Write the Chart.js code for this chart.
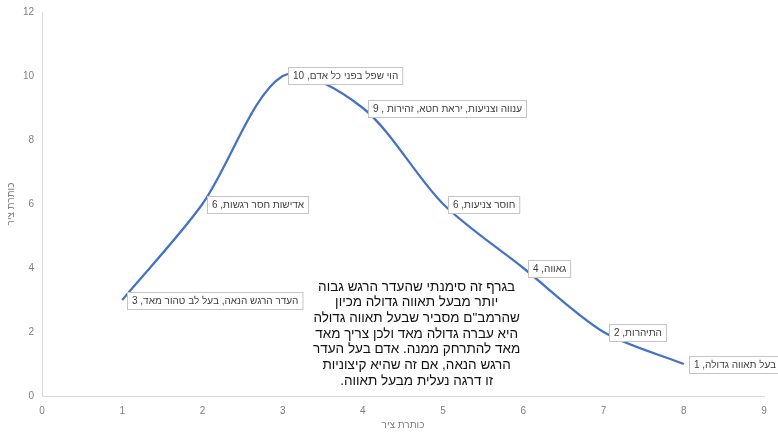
<!DOCTYPE html>
<html>
<head>
<meta charset="utf-8">
<script src="https://cdn.jsdelivr.net/npm/chart.js@4"></script>
<style>
  html, body { margin: 0; padding: 0; background: #fff; }
  #wrap { width: 778px; height: 435px; position: relative; }
</style>
</head>
<body>
<div id="wrap"><canvas id="c" width="778" height="435"></canvas></div>
<script>
// Level on the x axis and score on the y axis, one entry per trait
const levels = [1, 2, 3, 4, 5, 6, 7, 8];
const scores = [3, 6, 10, 9, 6, 4, 2, 1];
const traitNames = [
  'העדר הרגש הנאה, בעל לב טהור מאד',
  'אדישות חסר רגשות',
  'הוי שפל בפני כל אדם',
  'ענווה וצניעות, יראת חטא, זהירות ',
  'חוסר צניעות',
  'גאווה',
  'התיהרות',
  'בעל תאווה גדולה'
];
const xTicks = [0, 1, 2, 3, 4, 5, 6, 7, 8, 9];
const yTicks = [0, 2, 4, 6, 8, 10, 12];
const axisTitle = 'כותרת ציר';
const noteLines = [
  'בגרף זה סימנתי שהעדר הרגש גבוה',
  'יותר מבעל תאווה גדולה מכיון',
  'שהרמב"ם מסביר שבעל תאווה גדולה',
  'היא עברה גדולה מאד ולכן צריך מאד',
  'מאד להתרחק ממנה. אדם בעל העדר',
  'הרגש הנאה, אם זה שהיא קיצוניות',
  'זו דרגה נעלית מבעל תאווה.'
];

const points = levels.map((x, i) => ({ x: x, y: scores[i] }));
const uiFont = '"Liberation Sans", Arial, sans-serif';

// Callout boxes beside each point: "name, value"
const calloutPlugin = {
  id: 'callouts',
  afterDatasetsDraw(chart) {
    const ctx = chart.ctx;
    const xs = chart.scales.x, ys = chart.scales.y;
    ctx.save();
    ctx.font = '10px ' + uiFont;
    ctx.direction = 'rtl';
    ctx.textBaseline = 'middle';
    ctx.textAlign = 'left';
    points.forEach((p, i) => {
      const px = xs.getPixelForValue(p.x);
      const py = ys.getPixelForValue(p.y);
      const txt = traitNames[i] + ', ' + p.y;
      const w = ctx.measureText(txt).width + 9;
      const h = 17;
      const bx = Math.round(px + 5) + 0.5;
      const by = Math.round(py - h / 2) + 0.5;
      ctx.fillStyle = '#ffffff';
      ctx.fillRect(bx, by, w, h);
      ctx.strokeStyle = '#c4c4c4';
      ctx.lineWidth = 1;
      ctx.strokeRect(bx, by, w, h);
      ctx.fillStyle = '#404040';
      ctx.fillText(txt, bx + 4.5, by + h / 2 + 0.5);
    });
    ctx.restore();
  }
};

// Explanatory note in the lower middle of the plot
const notePlugin = {
  id: 'note',
  afterDraw(chart) {
    const ctx = chart.ctx;
    const xs = chart.scales.x, ys = chart.scales.y;
    const cx = xs.getPixelForValue(4.67);
    const top = ys.getPixelForValue(3.66);
    ctx.save();
    ctx.fillStyle = '#ffffff';
    ctx.fillRect(cx - 104, top - 4, 208, 117);
    ctx.font = '13.5px ' + uiFont;
    ctx.direction = 'rtl';
    ctx.textAlign = 'center';
    ctx.textBaseline = 'middle';
    ctx.fillStyle = '#111111';
    noteLines.forEach((line, i) => {
      ctx.fillText(line, cx, top + 8 + i * 15.7);
    });
    ctx.restore();
  }
};

new Chart(document.getElementById('c'), {
  type: 'scatter',
  data: {
    datasets: [{
      data: points,
      showLine: true,
      borderColor: '#4472C4',
      borderWidth: 2.25,
      tension: 0.3,
      pointRadius: 0,
      pointHoverRadius: 0,
      fill: false
    }]
  },
  options: {
    responsive: false,
    animation: false,
    events: [],
    layout: { padding: { top: 12, right: 14, left: 0, bottom: 0 } },
    plugins: {
      legend: { display: false },
      tooltip: { enabled: false }
    },
    scales: {
      x: {
        type: 'linear',
        min: 0, max: 9,
        afterBuildTicks(s) { s.ticks = xTicks.map(v => ({ value: v })); },
        grid: { display: false },
        border: { display: true, color: '#d9d9d9', width: 1 },
        ticks: { color: '#7f7f7f', font: { size: 10, family: uiFont }, padding: 1 },
        title: { display: true, text: axisTitle, color: '#7f7f7f', font: { size: 10, family: uiFont }, padding: { top: 2, bottom: 4 } },
        afterFit(s) { s.height = 39; }
      },
      y: {
        type: 'linear',
        min: 0, max: 12,
        afterBuildTicks(s) { s.ticks = yTicks.map(v => ({ value: v })); },
        grid: { display: false },
        border: { display: true, color: '#d9d9d9', width: 1 },
        ticks: { color: '#7f7f7f', font: { size: 10, family: uiFont }, padding: 0 },
        title: { display: true, text: axisTitle, color: '#7f7f7f', font: { size: 10, family: uiFont }, padding: { top: 5, bottom: 0 } },
        afterFit(s) { s.width = 42; }
      }
    }
  },
  plugins: [calloutPlugin, notePlugin]
});
</script>
</body>
</html>
